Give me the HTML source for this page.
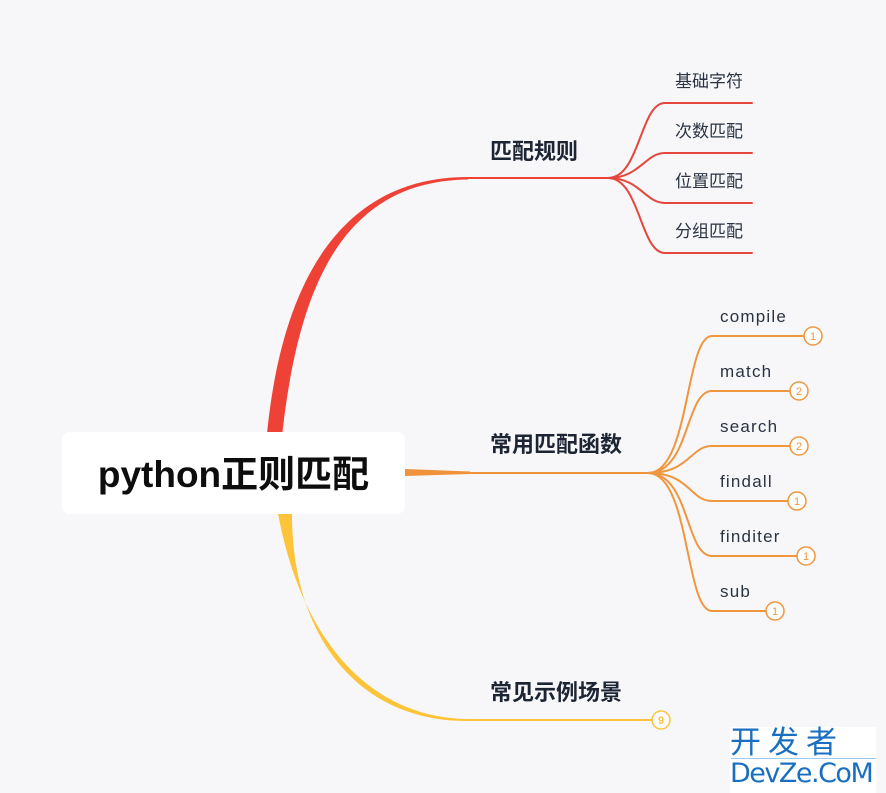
<!DOCTYPE html>
<html><head><meta charset="utf-8"><style>
html,body{margin:0;padding:0}
body{width:886px;height:793px;background:#f7f7fa;position:relative;overflow:hidden;font-family:"Liberation Sans","Noto Sans CJK SC",sans-serif}
.t{position:absolute;color:#2a3342;font-size:17px;line-height:20px;white-space:nowrap}
.l{position:absolute;color:#2a3342;font-size:17px;line-height:20px;white-space:nowrap;letter-spacing:1.2px}
.b{position:absolute;color:#1d2433;font-size:22px;font-weight:bold;line-height:26px;white-space:nowrap}
</style></head><body>
<svg width="886" height="793" style="position:absolute;left:0;top:0">
<g fill="none" stroke-linecap="round">
<path d="M266,445 C278,300 330,177 468,177 L468,179.5 C335,181 296,300 281,445 Z" fill="#ee4237" stroke="none"/>
<path d="M468,178 L610,178" stroke="#ee4237" stroke-width="2"/>
<g stroke="#e5473c" stroke-width="2">
<path d="M608,178 C640,178 640,103 665,103 L752,103"/>
<path d="M608,178 C640,178 645,153 665,153 L752,153"/>
<path d="M608,178 C640,178 645,203 665,203 L752,203"/>
<path d="M608,178 C640,178 640,253 665,253 L752,253"/>
</g>
<path d="M405,469 L470,471.5 L470,474 L405,476 Z" fill="#f0923a" stroke="none"/>
<path d="M470,473 L650,473" stroke="#f0923a" stroke-width="2"/>
<g stroke="#f0963d" stroke-width="2">
<path d="M648,473 C690,473 685,336 712,336 L804,336"/>
<path d="M648,473 C690,473 685,391 712,391 L790,391"/>
<path d="M648,473 C690,473 690,446 712,446 L790,446"/>
<path d="M648,473 C690,473 690,501 712,501 L788,501"/>
<path d="M648,473 C690,473 685,556 712,556 L797,556"/>
<path d="M648,473 C690,473 685,611 712,611 L766,611"/>
</g>
<g stroke="#f0963d" stroke-width="1.5" fill="#fff">
<circle cx="813" cy="336" r="9"/><circle cx="799" cy="391" r="9"/><circle cx="799" cy="446" r="9"/>
<circle cx="797" cy="501" r="9"/><circle cx="806" cy="556" r="9"/><circle cx="775" cy="611" r="9"/>
</g>
<g fill="#f0963d" font-size="11" text-anchor="middle" font-family="Liberation Sans,sans-serif">
<text x="813" y="340">1</text><text x="799" y="395">2</text><text x="799" y="450">2</text>
<text x="797" y="505">1</text><text x="806" y="560">1</text><text x="775" y="615">1</text>
</g>
<path d="M277,508 C300,640 370,719 470,719 L470,721 C362,723 290,640 292,508 Z" fill="#fdc43a" stroke="none"/>
<path d="M470,720 L652,720" stroke="#fdc43a" stroke-width="2"/>
<circle cx="661" cy="720" r="9" stroke="#fdc43a" stroke-width="1.5" fill="#fff"/>
<text x="661" y="724" fill="#fdc43a" font-size="11" font-weight="bold" text-anchor="middle" font-family="Liberation Sans,sans-serif">9</text>
</g>
</svg>
<div style="position:absolute;left:62px;top:432px;width:343px;height:82px;background:#fff;border-radius:8px"></div>
<div style="position:absolute;left:62px;top:432px;width:343px;height:82px;line-height:86px;text-align:center;font-size:37px;font-weight:bold;color:#0d0d0d">python正则匹配</div>
<div class="b" style="left:490px;top:139px">匹配规则</div>
<div class="b" style="left:490px;top:432px">常用匹配函数</div>
<div class="b" style="left:490px;top:680px">常见示例场景</div>
<div class="t" style="left:675px;top:72px">基础字符</div>
<div class="t" style="left:675px;top:122px">次数匹配</div>
<div class="t" style="left:675px;top:172px">位置匹配</div>
<div class="t" style="left:675px;top:222px">分组匹配</div>
<div class="l" style="left:720px;top:307px">compile</div>
<div class="l" style="left:720px;top:362px">match</div>
<div class="l" style="left:720px;top:417px">search</div>
<div class="l" style="left:720px;top:472px">findall</div>
<div class="l" style="left:720px;top:527px">finditer</div>
<div class="l" style="left:720px;top:582px">sub</div>
<div style="position:absolute;left:730px;top:727px;width:146px;height:66px;background:#fff"></div>
<div style="position:absolute;left:730px;top:724px;font-size:31px;line-height:38px;color:#1a6fc0;letter-spacing:7px;white-space:nowrap">开发者</div>
<div style="position:absolute;left:731px;top:758px;width:145px;height:1px;background:#9ccaf0"></div>
<div style="position:absolute;left:730px;top:757px;font-size:27px;line-height:34px;color:#1a6fc0;white-space:nowrap;font-family:'DejaVu Sans',sans-serif;letter-spacing:-1.5px">DevZe.CoM</div>
</body></html>
